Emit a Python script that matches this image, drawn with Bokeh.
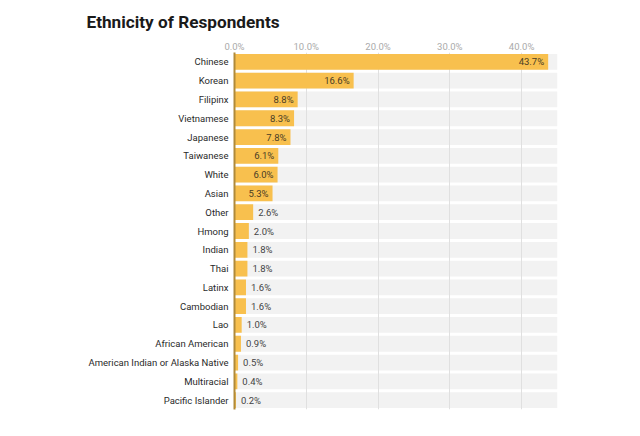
from bokeh.plotting import figure
from bokeh.models import (FactorRange, Range1d, FixedTicker, PrintfTickFormatter,
                          ColumnDataSource, Title)
from bokeh.embed import file_html
from bokeh.resources import INLINE
from bokeh.core.properties import value

categories = ["Chinese", "Korean", "Filipinx", "Vietnamese", "Japanese", "Taiwanese",
              "White", "Asian", "Other", "Hmong", "Indian", "Thai", "Latinx",
              "Cambodian", "Lao", "African American",
              "American Indian or Alaska Native", "Multiracial", "Pacific Islander"]
values = [43.7, 16.6, 8.8, 8.3, 7.8, 6.1, 6.0, 5.3, 2.6, 2.0, 1.8, 1.8, 1.6,
          1.6, 1.0, 0.9, 0.5, 0.4, 0.2]
tick_values = [0, 10, 20, 30, 40]
x_max = 45

FONT = "Roboto"
BAR = "#F8C04E"
BAND = "#F2F2F2"

p = figure(width=624, height=420, output_backend="svg", toolbar_location=None,
           y_range=FactorRange(*reversed(categories), range_padding=0),
           x_range=Range1d(0, x_max), x_axis_location="above",
           min_border_left=234, min_border_right=67, min_border_top=52,
           min_border_bottom=11)
p.outline_line_color = None
p.background_fill_color = "white"
p.border_fill_color = "white"

t = Title(text="Ethnicity of Respondents", align="left", offset=-148,
          text_font=FONT, text_font_size="17.2px", text_font_style="bold",
          text_color="#1a1a1a", standoff=12)
p.add_layout(t, "above")

band_src = ColumnDataSource(dict(y=categories, right=[x_max] * len(categories)))
bands = p.hbar(y="y", left=0, right="right", height=0.84, source=band_src,
               fill_color=BAND, line_color=None)
bands.level = "image"

src = ColumnDataSource(dict(y=categories, v=values,
                            lab=["%.1f%%" % v for v in values]))
p.hbar(y="y", left=0, right="v", height=0.84, source=src,
       fill_color=BAR, line_color=None)

inside = [i for i, v in enumerate(values) if v >= 4]
outside = [i for i, v in enumerate(values) if v < 4]
src_in = ColumnDataSource(dict(y=[categories[i] for i in inside],
                               v=[values[i] for i in inside],
                               lab=["%.1f%%" % values[i] for i in inside]))
src_out = ColumnDataSource(dict(y=[categories[i] for i in outside],
                                v=[values[i] for i in outside],
                                lab=["%.1f%%" % values[i] for i in outside]))
p.text(x="v", y="y", text="lab", source=src_in, x_offset=-4, text_align="right",
       text_baseline="middle", text_font=value(FONT), text_font_size="9.5px",
       text_color="#4a3d25")
p.text(x="v", y="y", text="lab", source=src_out, x_offset=5, text_align="left",
       text_baseline="middle", text_font=value(FONT), text_font_size="9.5px",
       text_color="#444444")

xa = p.xaxis[0]
xa.ticker = FixedTicker(ticks=tick_values)
xa.formatter = PrintfTickFormatter(format="%.1f%%")
xa.axis_line_color = None
xa.major_tick_line_color = None
xa.minor_tick_line_color = None
xa.major_tick_out = 0
xa.major_tick_in = 0
xa.major_label_text_color = "#aaaaaa"
xa.major_label_text_font = FONT
xa.major_label_text_font_size = "9.5px"
xa.major_label_standoff = 1

ya = p.yaxis[0]
ya.axis_line_color = "#b08a3a"
ya.axis_line_width = 2
ya.major_tick_line_color = None
ya.minor_tick_line_color = None
ya.major_tick_out = 0
ya.major_tick_in = 0
ya.major_label_text_color = "#2a2a2a"
ya.major_label_text_font = FONT
ya.major_label_text_font_size = "9.5px"
ya.major_label_standoff = 6

p.xgrid.ticker = FixedTicker(ticks=tick_values)
p.xgrid.grid_line_color = "#e0e0e0"
p.xgrid.grid_line_width = 1
p.ygrid.grid_line_color = None

open("out.html", "w").write(file_html(p, INLINE))
